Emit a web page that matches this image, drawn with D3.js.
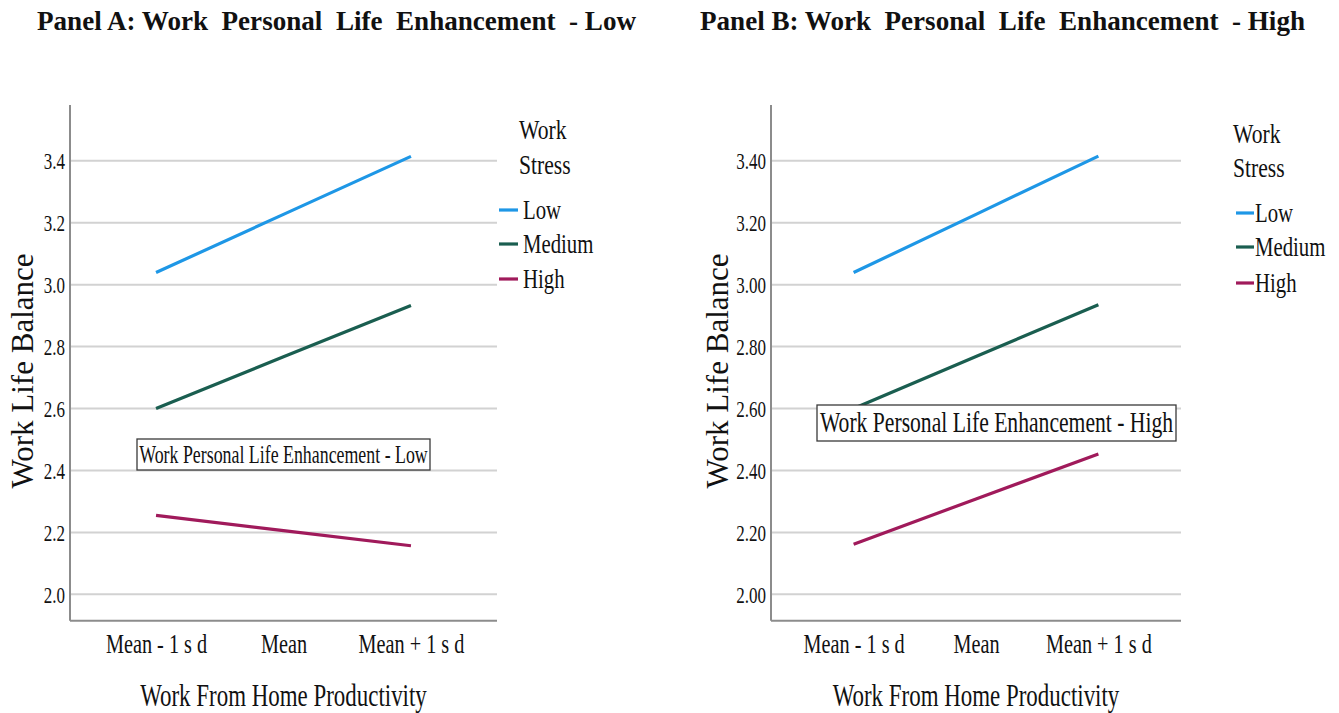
<!DOCTYPE html>
<html>
<head>
<meta charset="utf-8">
<script src="https://cdn.jsdelivr.net/npm/d3@7"></script>
<style>
  html, body { margin: 0; padding: 0; background: #fff; }
  svg { display: block; }
  text { font-family: "Liberation Serif", "Times New Roman", serif; fill: #111; white-space: pre; }
</style>
</head>
<body>
<svg id="chart" width="1339" height="713"></svg>
<script>
// X-axis categories (Work From Home Productivity levels)
const categories = ["Mean - 1 s d", "Mean", "Mean + 1 s d"];
// Moderator levels (Work Stress)
const stressLevels = ["Low", "Medium", "High"];
const stressColors = ["#1e97e6", "#1a5e50", "#a01a5b"];

// Panel A: Work Personal Life Enhancement - Low
const panelALow    = [3.039, 3.227, 3.414];
const panelAMedium = [2.600, 2.767, 2.933];
const panelAHigh   = [2.255, 2.206, 2.157];

// Panel B: Work Personal Life Enhancement - High
const panelBLow    = [3.039, 3.227, 3.415];
const panelBMedium = [2.600, 2.768, 2.935];
const panelBHigh   = [2.162, 2.308, 2.453];

// Y-axis tick values shared by both panels
const yTicks = [2.0, 2.2, 2.4, 2.6, 2.8, 3.0, 3.2, 3.4];
const yDomain = [1.915, 3.58];

const serif = "'Liberation Serif', 'Times New Roman', serif";

const panels = [
  {
    title: "Panel A: Work  Personal  Life  Enhancement  - Low",
    titleX: 37, titleW: 599,
    series: [panelALow, panelAMedium, panelAHigh],
    x0: 70, x1: 497, tickFmt: d3.format(".1f"),
    yLabelX: 33,
    box: { x: 137, y: 439, w: 293, h: 31, text: "Work Personal Life Enhancement - Low", size: 25, sq: 0.714, base: 463 },
    legend: { titleX: 519, swX: 499, swW: 19, textX: 523, ys: [130, 165, 210, 244, 279] }
  },
  {
    title: "Panel B: Work  Personal  Life  Enhancement  - High",
    titleX: 700, titleW: 605,
    series: [panelBLow, panelBMedium, panelBHigh],
    x0: 771, x1: 1181, tickFmt: d3.format(".2f"),
    yLabelX: 728,
    box: { x: 817, y: 405, w: 359, h: 36, text: "Work Personal Life Enhancement - High", size: 29, sq: 0.746, base: 432 },
    legend: { titleX: 1233, swX: 1236, swW: 18, textX: 1255, ys: [134, 168, 213, 247, 283] }
  }
];

const svg = d3.select("#chart");
const yTop = 105, yBottom = 620.7;

// Horizontally condensed text, as the serif face in the chart is narrow
function squeezedText(parent, x, y, str, size, sq, anchor, weight) {
  const g = parent.append("g").attr("transform", `translate(${x},${y}) scale(${sq},1)`);
  return g.append("text")
    .attr("x", 0).attr("y", 0)
    .attr("text-anchor", anchor || "start")
    .attr("font-family", serif)
    .attr("font-size", size)
    .attr("font-weight", weight || "normal")
    .text(str);
}

panels.forEach(p => {
  const g = svg.append("g");

  const x = d3.scalePoint().domain(categories).range([p.x0, p.x1]).padding(0.675);
  const y = d3.scaleLinear().domain(yDomain).range([yBottom, yTop]);

  // Title
  g.append("text")
    .attr("x", p.titleX).attr("y", 30)
    .attr("font-family", serif)
    .attr("font-size", 27).attr("font-weight", "bold")
    .attr("textLength", p.titleW).attr("lengthAdjust", "spacingAndGlyphs")
    .text(p.title);

  // Gridlines
  g.append("g").selectAll("line").data(yTicks).join("line")
    .attr("x1", p.x0).attr("x2", p.x1)
    .attr("y1", d => y(d)).attr("y2", d => y(d))
    .attr("stroke", "#d2d2d2").attr("stroke-width", 2);

  // Y axis
  const yAxis = g.append("g").attr("transform", `translate(${p.x0},0)`)
    .call(d3.axisLeft(y).tickValues(yTicks).tickFormat(p.tickFmt).tickSize(0).tickPadding(5));
  yAxis.select(".domain").remove();
  yAxis.selectAll(".tick text").remove();
  yAxis.selectAll(".tick").each(function(d) {
    squeezedText(d3.select(this), -5, 8, p.tickFmt(d), 23, 0.74, "end");
  });

  // X axis
  const xAxis = g.append("g").attr("transform", `translate(0,${yBottom})`)
    .call(d3.axisBottom(x).tickSize(0));
  xAxis.select(".domain").remove();
  xAxis.selectAll(".tick text").remove();
  xAxis.selectAll(".tick").each(function(d) {
    squeezedText(d3.select(this), 0, 32, d, 27, 0.75, "middle");
  });

  // Axis frame lines
  g.append("line").attr("x1", p.x0).attr("x2", p.x0).attr("y1", yTop).attr("y2", yBottom)
    .attr("stroke", "#8c8c8c").attr("stroke-width", 2);
  g.append("line").attr("x1", p.x0).attr("x2", p.x1).attr("y1", yBottom).attr("y2", yBottom)
    .attr("stroke", "#8c8c8c").attr("stroke-width", 2);

  // Axis titles
  squeezedText(g, x("Mean"), 706, "Work From Home Productivity", 31, 0.74, "middle");
  g.append("text")
    .attr("transform", `translate(${p.yLabelX},371) rotate(-90)`)
    .attr("text-anchor", "middle")
    .attr("font-family", serif)
    .attr("font-size", 31)
    .text("Work Life Balance");

  // Series lines
  const line = d3.line().x((d, i) => x(categories[i])).y(d => y(d));
  g.append("g").selectAll("path").data(p.series).join("path")
    .attr("d", d => line(d))
    .attr("fill", "none")
    .attr("stroke", (d, i) => stressColors[i])
    .attr("stroke-width", 3.2);

  // Annotation box
  const b = p.box;
  g.append("rect").attr("x", b.x).attr("y", b.y).attr("width", b.w).attr("height", b.h)
    .attr("fill", "#fff").attr("stroke", "#3a3a3a").attr("stroke-width", 1.3);
  squeezedText(g, b.x + b.w / 2, b.base, b.text, b.size, b.sq, "middle");

  // Legend
  const L = p.legend;
  squeezedText(g, L.titleX, L.ys[0] + 9, "Work", 27, 0.8);
  squeezedText(g, L.titleX, L.ys[1] + 9, "Stress", 27, 0.8);
  stressLevels.forEach((s, i) => {
    const cy = L.ys[i + 2];
    g.append("line").attr("x1", L.swX).attr("x2", L.swX + L.swW)
      .attr("y1", cy).attr("y2", cy)
      .attr("stroke", stressColors[i]).attr("stroke-width", 3.2);
    squeezedText(g, L.textX, cy + 9, s, 27, 0.77);
  });
});
</script>
</body>
</html>
